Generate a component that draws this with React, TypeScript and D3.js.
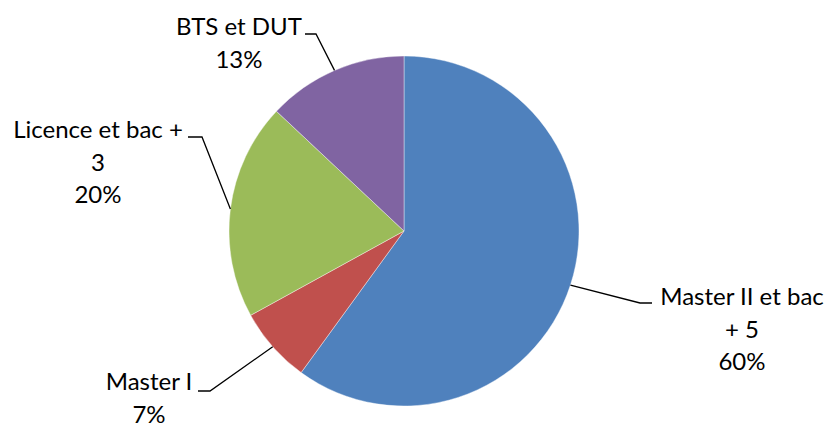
import * as d3 from "d3";
import React from "react";

// pie data, clockwise from 12 o'clock
const categories = ["Master II et bac + 5", "Master I", "Licence et bac + 3", "BTS et DUT"];
const values = [60, 7, 20, 13];
const colors = ["#4F81BD", "#C0504D", "#9BBB59", "#8064A2"];
// how each label wraps
const labelLines = [
    ["Master II et bac", "+ 5", "60%"],
    ["Master I", "7%"],
    ["Licence et bac +", "3", "20%"],
    ["BTS et DUT", "13%"],
];

const width = 830;
const height = 426;
const cx = 404;
const cy = 231;
const radius = 175;
const lineH = 32.5;

// label layout: text centre x, first baseline y, elbow point and elbow end
const labelLayout = [
    {x: 742, y: 305, elbow: [640, 303], end: [652, 303]},
    {x: 149, y: 390, elbow: [210, 391], end: [198, 391]},
    {x: 98, y: 138, elbow: [202, 137], end: [188, 137]},
    {x: 239, y: 35, elbow: [316, 34], end: [305, 34]},
];

const App = () => {
    const pie = d3.pie<number>().sort(null).value(d => d)(values);
    const arc = d3.arc<d3.PieArcDatum<number>>().innerRadius(0).outerRadius(radius);

    return (
        <svg width={width} height={height} style={{position: "absolute", left: 0, top: 0, background: "#fff"}}
             fontFamily="Lato, 'Open Sans', sans-serif" fontSize={24}>
            <g transform={`translate(${cx},${cy})`}>
                {pie.map((d, i) => (
                    <path key={categories[i]} d={arc(d) || ""} fill={colors[i]} stroke="#fff" strokeWidth={0.4}/>
                ))}
            </g>
            {pie.map((d, i) => {
                const mid = (d.startAngle + d.endAngle) / 2;
                const sx = cx + radius * Math.sin(mid);
                const sy = cy - radius * Math.cos(mid);
                const lay = labelLayout[i];
                return (
                    <g key={"lab" + i}>
                        <polyline points={`${sx},${sy} ${lay.elbow[0]},${lay.elbow[1]} ${lay.end[0]},${lay.end[1]}`}
                                  fill="none" stroke="#000" strokeWidth={1.3}/>
                        <text textAnchor="middle" fill="#000">
                            {labelLines[i].map((t, j) => (
                                <tspan key={j} x={lay.x} y={lay.y + j * lineH}>{t}</tspan>
                            ))}
                        </text>
                    </g>
                );
            })}
        </svg>
    );
};

export default App;
